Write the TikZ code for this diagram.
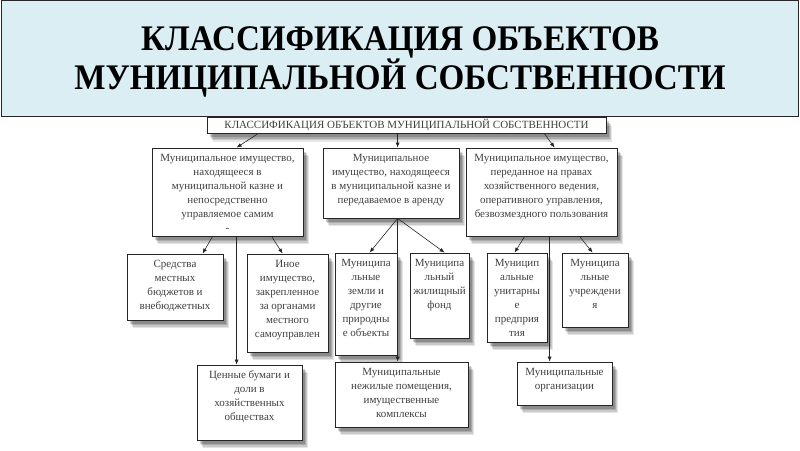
\documentclass[tikz,border=0pt]{standalone}
\usepackage{fontspec}
\setmainfont{Liberation Serif}
\newfontfamily\ttlfont{Liberation Serif Bold}[FakeStretch=0.92]
\usetikzlibrary{calc,shadows,arrows.meta}
\definecolor{hdr}{HTML}{DAEEF3}
\definecolor{txtc}{HTML}{404040}
\definecolor{ln}{HTML}{262626}
\newcommand\mkbox[6]{%
  \node[box, minimum width={#4-#2}, minimum height={#5-#3}] (#1) at ({(#2+#4)/2},{(#3+#5)/2}) {};
  \node[txt, anchor=north] (#1t) at ([yshift=-6pt]#1.north) {#6};
}
\begin{document}
\begin{tikzpicture}[x=1pt,y=-1pt,
  box/.style={draw=ln, line width=0.8pt, fill=white, inner sep=0pt,
    drop shadow={shadow xshift=6pt, shadow yshift=-8pt, opacity=0.10, fill=black},
    drop shadow={shadow xshift=5pt, shadow yshift=-6.5pt, opacity=0.12, fill=black},
    drop shadow={shadow xshift=4pt, shadow yshift=-5pt, opacity=0.15, fill=black},
    drop shadow={shadow xshift=3pt, shadow yshift=-3.5pt, opacity=0.18, fill=black}},
  txt/.style={align=center, font=\fontsize{11}{14}\selectfont, text=txtc, inner sep=0pt},
  arr/.style={draw=ln, line width=0.6pt, -{Latex[length=5pt,width=4pt]}}]
\useasboundingbox (0,0) rectangle (800,450);
% header
\node[draw=ln, line width=1pt, fill=hdr, minimum width=797pt, minimum height=116pt, inner sep=0pt] (hdr) at (400,58.5) {};
\node[font=\ttlfont\fontsize{36}{36}\selectfont, align=center, inner sep=0pt] (title) at (400,62) {КЛАССИФИКАЦИЯ ОБЪЕКТОВ\\МУНИЦИПАЛЬНОЙ СОБСТВЕННОСТИ};
% subtitle
\node[box, minimum width=399pt, minimum height=16pt, text=txtc, font=\fontsize{11}{12}\selectfont] (sub) at (406.5,125.5) {КЛАССИФИКАЦИЯ ОБЪЕКТОВ МУНИЦИПАЛЬНОЙ СОБСТВЕННОСТИ};
% level 2
\mkbox{A}{152}{148}{303}{236}{Муниципальное имущество,\\находящееся в\\муниципальной казне и\\непосредственно\\управляемое самим\\-}
\mkbox{B}{323}{148}{459}{218}{Муниципальное\\имущество, находящееся\\в муниципальной казне и\\передаваемое в аренду}
\mkbox{C}{466}{148}{617}{236}{Муниципальное имущество,\\переданное на правах\\хозяйственного ведения,\\оперативного управления,\\безвозмездного пользования}
% level 3
\mkbox{D}{127}{254}{223}{320}{Средства\\местных\\бюджетов и\\внебюджетных}
\mkbox{E}{247}{254}{328}{352}{Иное\\имущество,\\закрепленное\\за органами\\местного\\самоуправлен}
\mkbox{F}{335}{253}{397}{355}{Муниципа\\льные\\земли и\\другие\\природны\\е объекты}
\mkbox{G}{410}{253}{469}{338}{Муниципа\\льный\\жилищный\\фонд}
\mkbox{H}{487}{253}{547}{342}{Муницип\\альные\\унитарны\\е\\предприя\\тия}
\mkbox{I}{562}{253}{628}{327}{Муниципа\\льные\\учреждени\\я}
% level 4
\mkbox{J}{197}{365}{302}{440}{Ценные бумаги и\\доли в\\хозяйственных\\обществах}
\mkbox{K}{335}{362}{468}{427}{Муниципальные\\нежилые помещения,\\имущественные\\комплексы}
\mkbox{L}{517}{362}{612}{405}{Муниципальные\\организации}
% connectors
\draw[arr] ([xshift=51pt]sub.south west) -- ([xshift=85pt]A.north west);
\draw[arr] ([xshift=191pt]sub.south west) -- ([xshift=75pt]B.north west);
\draw[arr] ([xshift=338pt]sub.south west) -- ([xshift=89pt]C.north west);
\draw[arr] ([xshift=61pt]A.south west) -- ([xshift=76pt]D.north west);
\draw[arr] ([xshift=85pt]A.south west) -- ([xshift=40pt]J.north west);
\draw[arr] ([xshift=120pt]A.south west) -- ([xshift=36pt]E.north west);
\draw[arr] ([xshift=75pt]B.south west) -- ([xshift=35pt]F.north west);
\draw[arr] ([xshift=75pt]B.south west) -- ([xshift=63pt]K.north west);
\draw[arr] ([xshift=75pt]B.south west) -- ([xshift=35pt]G.north west);
\draw[arr] ([xshift=59pt]C.south west) -- ([xshift=28pt]H.north west);
\draw[arr] ([xshift=84pt]C.south west) -- ([xshift=33pt]L.north west);
\draw[arr] ([xshift=114pt]C.south west) -- ([xshift=31pt]I.north west);
\end{tikzpicture}
\end{document}
